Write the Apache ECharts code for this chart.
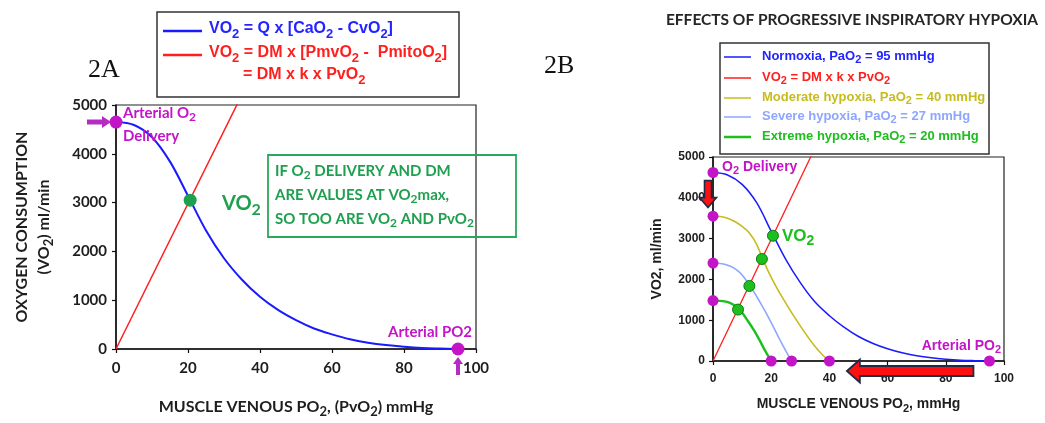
<!DOCTYPE html>
<html>
<head>
<meta charset="utf-8">
<script src="https://cdn.jsdelivr.net/npm/echarts@6/dist/echarts.min.js"></script>
<style>
  html, body { margin: 0; padding: 0; background: #ffffff; }
  #chart { width: 1045px; height: 423px; }
</style>
</head>
<body>
<div id="chart"></div>
<script>
// ---- Panel 2A: one steady state (normoxia) ----
const pvo2A       = [0, 5, 10, 15, 20, 25, 30, 35, 40, 45, 50, 55, 60, 65, 70, 75, 80, 85, 90, 95];
const fickA       = [4650, 4590, 4340, 3840, 3140, 2430, 1860, 1420, 1070, 800, 590, 420, 300, 200, 130, 80, 45, 20, 8, 0];
const diffusionA  = [[0, 0], [40, 5960]];
const endpointsA  = [[0, 4650], [95, 0]];
const vo2PointA   = [[20.6, 3050]];

// ---- Panel 2B: progressive inspiratory hypoxia ----
const pvo2Normoxia = [0, 5, 10, 15, 20, 25, 30, 35, 40, 45, 50, 55, 60, 65, 70, 75, 80, 85, 90, 95];
const vo2Normoxia  = [4620, 4560, 4330, 3880, 3180, 2490, 1920, 1450, 1110, 830, 600, 430, 300, 200, 130, 80, 45, 20, 8, 0];
const pvo2Moderate = [0, 2.5, 5, 7.5, 10, 12.5, 15, 17.5, 20, 22.5, 25, 27.5, 30, 32.5, 35, 37.5, 40];
const vo2Moderate  = [3550, 3540, 3500, 3420, 3300, 3140, 2860, 2430, 2050, 1720, 1420, 1130, 860, 600, 360, 160, 0];
const pvo2Severe   = [0, 2, 4, 6, 8, 10, 12, 14, 16, 18, 20, 22, 24, 26, 27];
const vo2Severe    = [2400, 2395, 2370, 2320, 2240, 2110, 1920, 1700, 1460, 1210, 940, 660, 380, 120, 0];
const pvo2Extreme  = [0, 2, 4, 6, 8, 10, 12, 14, 16, 18, 20];
const vo2Extreme   = [1480, 1475, 1460, 1420, 1330, 1180, 980, 760, 510, 240, 0];
const diffusionB   = [[0, 0], [40, 5960]];
const deliveryB    = [[0, 4620], [0, 3550], [0, 2400], [0, 1480]];
const arterialB    = [[20, 0], [27, 0], [40, 0], [95, 0]];
const vo2PointsB   = [[20.6, 3070], [16.8, 2500], [12.5, 1840], [8.6, 1260]];

const xTicks = [0, 20, 40, 60, 80, 100];
const yTicks = [0, 1000, 2000, 3000, 4000, 5000];

const LATO = 'Lato, "Open Sans", sans-serif';
const ARIAL = '"Liberation Sans", Arial, sans-serif';
const SERIF = '"Liberation Serif", "Times New Roman", serif';

const BLUE = '#1a1aff', RED = '#ff1f1f', MAG = '#c414c8', GREEN_A = '#1fa04f';
const YELLOW = '#c6bc1e', LBLUE = '#8ea6ff', GREEN_B = '#1cbf1c';

const zip = (xs, ys) => xs.map((x, i) => [x, ys[i]]);
const plain = v => String(v);

// subscript helpers for rich text
const sub = t => '{s|' + t + '}';
function richFill(size, color, family) {
  return { s: { fontSize: Math.round(size * 0.82), padding: [Math.round(size * 0.6), 0, 0, 0],
                fill: color, fontFamily: family, fontWeight: 'bold' } };
}
function richColor(size, color, family) {
  return { s: { fontSize: Math.round(size * 0.82), padding: [Math.round(size * 0.6), 0, 0, 0],
                color: color, fontFamily: family, fontWeight: 'bold' } };
}

function valueAxis(grid, min, max, interval, labelSize, labelMargin, family, extra) {
  return Object.assign({
    gridIndex: grid, type: 'value', min: min, max: max, interval: interval,
    axisLine: { show: true, onZero: false, lineStyle: { color: '#111', width: 1.5 } },
    axisTick: { show: true, inside: false, length: 4, lineStyle: { color: '#111', width: 1.2 } },
    axisLabel: { fontSize: labelSize, fontFamily: family, fontWeight: 'bold', color: '#1e1e1e',
                 margin: labelMargin, formatter: plain },
    splitLine: { show: false }
  }, extra);
}

const chart = echarts.init(document.getElementById('chart'), null, { renderer: 'canvas' });

const lineSmooth = 0.35;

const option = {
  animation: false,
  backgroundColor: '#ffffff',
  grid: [
    { left: 116, top: 105, width: 360, height: 252, show: true, borderColor: '#222', borderWidth: 1.2 },
    { left: 713, top: 157, width: 291, height: 204, show: true, borderColor: '#222', borderWidth: 1.2 }
  ],
  xAxis: [
    valueAxis(0, xTicks[0], xTicks[xTicks.length - 1], 20, 15, 12, LATO, {
      name: 'MUSCLE VENOUS PO' + sub('2') + ', (PvO' + sub('2') + ') mmHg',
      nameLocation: 'middle', nameGap: 46,
      nameTextStyle: { fontSize: 16, fontFamily: LATO, fontWeight: 'bold', color: '#1e1e1e',
                       verticalAlign: 'top', rich: richColor(16, '#1e1e1e', LATO) }
    }),
    valueAxis(1, xTicks[0], xTicks[xTicks.length - 1], 20, 12, 12, ARIAL, {
      name: 'MUSCLE VENOUS PO' + sub('2') + ', mmHg',
      nameLocation: 'middle', nameGap: 34,
      nameTextStyle: { fontSize: 14, fontFamily: ARIAL, fontWeight: 'bold', color: '#1e1e1e',
                       verticalAlign: 'top', rich: richColor(14, '#1e1e1e', ARIAL) }
    })
  ],
  yAxis: [
    valueAxis(0, yTicks[0], yTicks[yTicks.length - 1], 1000, 15, 9, LATO, {
      name: 'OXYGEN CONSUMPTION\n(VO' + sub('2') + ') ml/min',
      nameLocation: 'middle', nameGap: 61, nameRotate: 90,
      nameTextStyle: { fontSize: 16, fontFamily: LATO, fontWeight: 'bold', color: '#1e1e1e',
                       lineHeight: 22, align: 'center', verticalAlign: 'bottom',
                       rich: richColor(16, '#1e1e1e', LATO) }
    }),
    valueAxis(1, yTicks[0], yTicks[yTicks.length - 1], 1000, 12, 8, ARIAL, {
      name: 'VO2, ml/min',
      nameLocation: 'middle', nameGap: 49, nameRotate: 90,
      nameTextStyle: { fontSize: 14, fontFamily: ARIAL, fontWeight: 'bold', color: '#1e1e1e',
                       align: 'center', verticalAlign: 'bottom' }
    })
  ],
  series: [
    // 2A
    { name: 'Fick A', type: 'line', xAxisIndex: 0, yAxisIndex: 0, data: zip(pvo2A, fickA),
      smooth: lineSmooth, showSymbol: false, lineStyle: { color: BLUE, width: 2 } },
    { name: 'Diffusion A', type: 'line', xAxisIndex: 0, yAxisIndex: 0, data: diffusionA,
      showSymbol: false, clip: true, lineStyle: { color: RED, width: 1.5 } },
    { name: 'Endpoints A', type: 'scatter', xAxisIndex: 0, yAxisIndex: 0, data: endpointsA,
      symbolSize: 13, clip: false, itemStyle: { color: MAG, opacity: 1 }, z: 5 },
    { name: 'VO2 A', type: 'scatter', xAxisIndex: 0, yAxisIndex: 0, data: vo2PointA,
      symbolSize: 13, itemStyle: { color: GREEN_A, opacity: 1 }, z: 5 },
    // 2B
    { name: 'Normoxia', type: 'line', xAxisIndex: 1, yAxisIndex: 1, data: zip(pvo2Normoxia, vo2Normoxia),
      smooth: lineSmooth, showSymbol: false, lineStyle: { color: BLUE, width: 1.5 } },
    { name: 'Diffusion B', type: 'line', xAxisIndex: 1, yAxisIndex: 1, data: diffusionB,
      showSymbol: false, clip: true, lineStyle: { color: RED, width: 1.3 } },
    { name: 'Moderate', type: 'line', xAxisIndex: 1, yAxisIndex: 1, data: zip(pvo2Moderate, vo2Moderate),
      smooth: lineSmooth, showSymbol: false, lineStyle: { color: YELLOW, width: 1.6 } },
    { name: 'Severe', type: 'line', xAxisIndex: 1, yAxisIndex: 1, data: zip(pvo2Severe, vo2Severe),
      smooth: lineSmooth, showSymbol: false, lineStyle: { color: LBLUE, width: 1.6 } },
    { name: 'Extreme', type: 'line', xAxisIndex: 1, yAxisIndex: 1, data: zip(pvo2Extreme, vo2Extreme),
      smooth: lineSmooth, showSymbol: false, lineStyle: { color: GREEN_B, width: 2.4 } },
    { name: 'Delivery B', type: 'scatter', xAxisIndex: 1, yAxisIndex: 1, data: deliveryB.concat(arterialB),
      symbolSize: 11, clip: false, itemStyle: { color: MAG, opacity: 1 }, z: 5 },
    { name: 'VO2 B', type: 'scatter', xAxisIndex: 1, yAxisIndex: 1, data: vo2PointsB,
      symbolSize: 11, itemStyle: { color: GREEN_B, opacity: 1, borderColor: '#0c7d12', borderWidth: 1 }, z: 6 }
  ]
};
chart.setOption(option);

// ---- annotation helpers ----
function text(x, y, str, size, color, family) {
  return { type: 'text', x: x, y: y, z: 100,
           style: { text: str, fontSize: size, fontFamily: family, fontWeight: 'bold', fill: color,
                    align: 'left', verticalAlign: 'middle', rich: richFill(size, color, family) } };
}
function textStyled(x, y, str, size, color, family, weight, align) {
  return { type: 'text', x: x, y: y, z: 100,
           style: { text: str, fontSize: size, fontFamily: family, fontWeight: weight, fill: color,
                    align: align, verticalAlign: 'middle', rich: richFill(size, color, family) } };
}
function hline(x1, x2, y, color, w) {
  return { type: 'line', z: 100, shape: { x1: x1, y1: y, x2: x2, y2: y }, style: { stroke: color, lineWidth: w } };
}
function box(x, y, w, h, color, lw) {
  return { type: 'rect', z: 99, shape: { x: x, y: y, width: w, height: h },
           style: { fill: 'rgba(0,0,0,0)', stroke: color, lineWidth: lw } };
}
function arrowPoints(x1, y1, x2, y2, sw, hw, hl) {
  const dx = x2 - x1, dy = y2 - y1, L = Math.hypot(dx, dy);
  const ux = dx / L, uy = dy / L, px = -uy, py = ux;
  const bx = x2 - ux * hl, by = y2 - uy * hl;
  return [
    [x1 + px * sw / 2, y1 + py * sw / 2], [bx + px * sw / 2, by + py * sw / 2],
    [bx + px * hw / 2, by + py * hw / 2], [x2, y2],
    [bx - px * hw / 2, by - py * hw / 2], [bx - px * sw / 2, by - py * sw / 2],
    [x1 - px * sw / 2, y1 - py * sw / 2]
  ];
}
function arrow(from, to, sw, hw, hl, fill, stroke, lw) {
  return { type: 'polygon', z: 120, shape: { points: arrowPoints(from[0], from[1], to[0], to[1], sw, hw, hl) },
           style: { fill: fill, stroke: stroke || null, lineWidth: lw || 0 } };
}

const pA = v => chart.convertToPixel({ gridIndex: 0 }, v);
const pB = v => chart.convertToPixel({ gridIndex: 1 }, v);

const dA0 = pA(endpointsA[0]), dA1 = pA(endpointsA[1]);
const dB0 = pB(deliveryB[0]);
const axisB = pB([0, 0]);
const leftTip = pB([46, 0]), leftTail = pB([89.5, 0]);

const graphics = [
  // panel labels and title
  textStyled(88, 70, '2A', 26, '#111', SERIF, 'normal', 'left'),
  textStyled(544, 66, '2B', 26, '#111', SERIF, 'normal', 'left'),
  textStyled(852, 20, 'EFFECTS OF PROGRESSIVE INSPIRATORY HYPOXIA', 15.5, '#262626', LATO, 'bold', 'center'),

  // key for 2A
  box(157, 12, 302, 85, '#333', 1.5),
  hline(163, 202, 31, BLUE, 2.5),
  hline(163, 202, 55, RED, 2.5),
  text(209, 29, 'VO' + sub('2') + ' = Q x [CaO' + sub('2') + ' - CvO' + sub('2') + ']', 16, '#2424ff', ARIAL),
  text(209, 53, 'VO' + sub('2') + ' = DM x [PmvO' + sub('2') + ' -  PmitoO' + sub('2') + ']', 16, RED, ARIAL),
  text(243, 75, '= DM x k x PvO' + sub('2'), 16, RED, ARIAL),

  // key for 2B
  box(720, 43, 269, 111, '#333', 1.5),
  hline(724, 751, 57, BLUE, 1.5),
  hline(724, 751, 78, RED, 1.5),
  hline(724, 751, 98, YELLOW, 1.5),
  hline(724, 751, 117, LBLUE, 1.5),
  hline(724, 751, 137, GREEN_B, 2.5),
  text(762, 56, 'Normoxia, PaO' + sub('2') + ' = 95 mmHg', 13, '#2424ff', ARIAL),
  text(762, 77, 'VO' + sub('2') + ' = DM x k x PvO' + sub('2'), 13, RED, ARIAL),
  text(762, 97, 'Moderate hypoxia, PaO' + sub('2') + ' = 40 mmHg', 13, YELLOW, ARIAL),
  text(762, 116, 'Severe hypoxia, PaO' + sub('2') + ' = 27 mmHg', 13, LBLUE, ARIAL),
  text(762, 136, 'Extreme hypoxia, PaO' + sub('2') + ' = 20 mmHg', 13, GREEN_B, ARIAL),

  // 2A annotations
  text(dA0[0] + 7, dA0[1] - 9, 'Arterial O' + sub('2'), 15, MAG, LATO),
  text(dA0[0] + 7, dA0[1] + 14, 'Delivery', 15, MAG, LATO),
  textStyled(dA1[0] + 14, dA1[1] - 17, 'Arterial PO2', 15, MAG, LATO, 'bold', 'right'),
  text(222, 204, 'VO' + sub('2'), 20, GREEN_A, LATO),
  box(268, 155, 248, 82, '#2aa85a', 1.8),
  text(275, 171, 'IF O' + sub('2') + ' DELIVERY AND DM', 15, GREEN_A, LATO),
  text(275, 195, 'ARE VALUES AT VO' + sub('2') + 'max,', 15, GREEN_A, LATO),
  text(275, 219, 'SO TOO ARE VO' + sub('2') + ' AND PvO' + sub('2'), 15, GREEN_A, LATO),
  arrow([dA0[0] - 29, dA0[1]], [dA0[0] - 5, dA0[1]], 5, 12, 9, '#b52cc4'),
  arrow([dA1[0], dA1[1] + 26], [dA1[0], dA1[1] + 8], 4, 10, 7, '#b52cc4'),

  // 2B annotations
  text(dB0[0] + 9, 167, 'O' + sub('2') + ' Delivery', 14, MAG, ARIAL),
  text(782, 236, 'VO' + sub('2'), 17, GREEN_B, ARIAL),
  textStyled(1001, 346, 'Arterial PO' + sub('2'), 14, MAG, ARIAL, 'bold', 'right'),
  arrow([axisB[0] - 5, pB([0, 4420])[1]], [axisB[0] - 5, pB([0, 3760])[1]], 7, 17, 10, '#ff1010', '#1f2a48', 1.6),
  arrow([leftTail[0], leftTail[1] + 10], [leftTip[0], leftTip[1] + 10], 10, 23, 13, '#ff1010', '#1f2a48', 1.8)
];

chart.setOption({ graphic: graphics });
</script>
</body>
</html>
